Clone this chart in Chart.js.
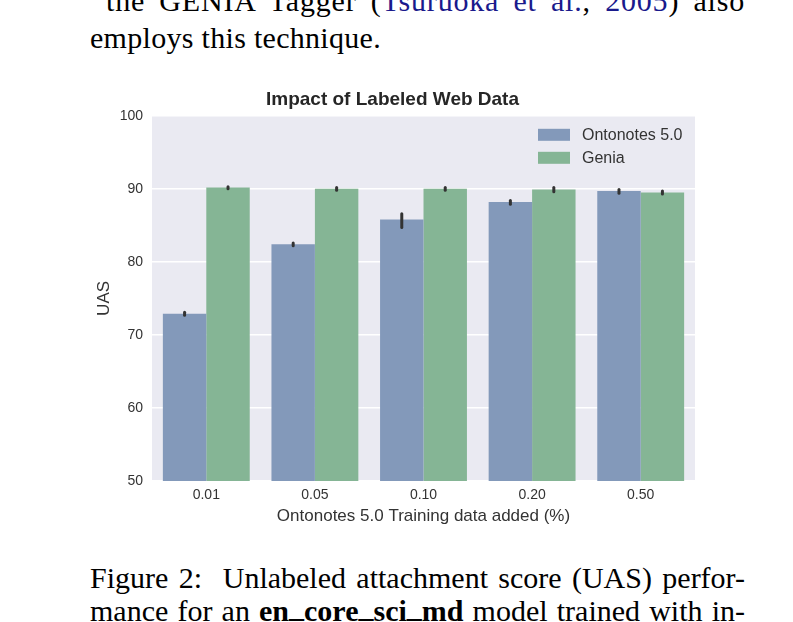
<!DOCTYPE html>
<html>
<head>
<meta charset="utf-8">
<script src="https://cdn.jsdelivr.net/npm/chart.js@4.4.1/dist/chart.umd.min.js"></script>
<style>
    body { margin: 0; background: #fff; width: 793px; height: 622px; overflow: hidden; position: relative; }
    .txt { position: absolute; left: 90px; width: 655px; font-family: "Liberation Serif", "Times New Roman", serif; font-size: 30px; line-height: 31px; color: #000; text-align: justify; text-align-last: justify; white-space: nowrap; }
    .txt.last { text-align-last: left; }
    .us { position: relative; top: -4px; }
    a { color: #1a1a8c; text-decoration: none; }
    #wrap { position: absolute; left: 90px; top: 85px; width: 620px; height: 446px; }
</style>
</head>
<body>
<div class="txt" style="top:-15px; left:106px; width:639px; letter-spacing:0.8px;">the GENIA Tagger (<a>Tsuruoka et al.</a>, <a>2005</a>) also</div>
<div class="txt last" style="top:22px; letter-spacing:0.3px;">employs this technique.</div>
<div class="txt" style="top:562px;">Figure 2:&nbsp; Unlabeled attachment score (UAS) perfor-</div>
<div class="txt" style="top:595px;">mance for an <b>en<span class="us">_</span>core<span class="us">_</span>sci<span class="us">_</span>md</b> model trained with in-</div>

<div id="wrap"><canvas id="uas-chart"></canvas></div>

<script>
const categories = ["0.01", "0.05", "0.10", "0.20", "0.50"];
const seriesNames = ["Ontonotes 5.0", "Genia"];
const ontonotes = [72.9, 82.4, 85.8, 88.2, 89.7];
const genia = [90.2, 90.0, 90.0, 89.9, 89.5];
// error bar ranges (low, high)
const ontonotesLow = [72.7, 82.2, 84.7, 87.9, 89.4];
const ontonotesHigh = [73.1, 82.6, 86.6, 88.4, 89.9];
const geniaLow = [90.0, 89.8, 89.8, 89.6, 89.3];
const geniaHigh = [90.3, 90.2, 90.2, 90.2, 89.7];
const yTicks = [50, 60, 70, 80, 90, 100];

const colors = ["#8399ba", "#85b595"];

const plotBg = {
    id: "plotBg",
    beforeDraw(chart) {
        const { ctx, chartArea: a } = chart;
        ctx.save();
        ctx.fillStyle = "#eaeaf2";
        ctx.fillRect(a.left, a.top, a.right - a.left, a.bottom - a.top);
        ctx.restore();
    }
};

const errorBars = {
    id: "errorBars",
    afterDatasetsDraw(chart) {
        const ctx = chart.ctx;
        const y = chart.scales.y;
        const ranges = [[ontonotesLow, ontonotesHigh], [geniaLow, geniaHigh]];
        ctx.save();
        ctx.strokeStyle = "#333";
        ctx.lineWidth = 3;
        ctx.lineCap = "round";
        ranges.forEach((r, di) => {
            chart.getDatasetMeta(di).data.forEach((bar, i) => {
                ctx.beginPath();
                ctx.moveTo(bar.x, y.getPixelForValue(r[0][i]));
                ctx.lineTo(bar.x, y.getPixelForValue(r[1][i]));
                ctx.stroke();
            });
        });
        ctx.restore();
    }
};

const innerLegend = {
    id: "innerLegend",
    afterDraw(chart) {
        const { ctx, chartArea: a } = chart;
        ctx.save();
        ctx.font = "16px 'Liberation Sans', Arial, sans-serif";
        ctx.textBaseline = "middle";
        chart.data.datasets.forEach((ds, i) => {
            const cy = a.top + 19 + i * 23;
            ctx.fillStyle = ds.backgroundColor;
            ctx.fillRect(a.right - 157, cy - 6, 32, 12);
            ctx.fillStyle = "#333";
            ctx.fillText(ds.label, a.right - 113, cy + 1);
        });
        ctx.restore();
    }
};

new Chart(document.getElementById("uas-chart").getContext("2d"), {
    type: "bar",
    data: {
        labels: categories,
        datasets: [
            { label: seriesNames[0], data: ontonotes, backgroundColor: colors[0] },
            { label: seriesNames[1], data: genia, backgroundColor: colors[1] }
        ]
    },
    options: {
        responsive: true,
        maintainAspectRatio: false,
        animation: false,
        categoryPercentage: 0.8,
        barPercentage: 1.0,
        layout: { padding: { right: 15, left: 0, top: 0, bottom: 0 } },
        plugins: {
            legend: { display: false },
            tooltip: { enabled: false },
            title: {
                display: true,
                text: "Impact of Labeled Web Data",
                color: "#262626",
                font: { family: "'Liberation Sans', Arial, sans-serif", size: 19, weight: "bold" },
                padding: { top: 3, bottom: 5 }
            }
        },
        scales: {
            x: {
                grid: { display: false, drawTicks: false },
                border: { display: false },
                ticks: { color: "#333", padding: 6, font: { family: "'Liberation Sans', Arial, sans-serif", size: 14 } },
                title: {
                    display: true,
                    text: "Ontonotes 5.0 Training data added (%)",
                    color: "#333",
                    font: { family: "'Liberation Sans', Arial, sans-serif", size: 17 },
                    padding: { top: 4, bottom: 4 }
                },
                afterFit: s => { s.height = 50; }
            },
            y: {
                min: 50,
                max: 100,
                afterBuildTicks: s => { s.ticks = yTicks.map(v => ({ value: v })); },
                grid: { color: "#ffffff", lineWidth: 1.5, drawTicks: false },
                border: { display: false },
                ticks: { color: "#333", padding: 9, font: { family: "'Liberation Sans', Arial, sans-serif", size: 14 } },
                title: {
                    display: true,
                    text: "UAS",
                    color: "#333",
                    font: { family: "'Liberation Sans', Arial, sans-serif", size: 17 },
                    padding: { top: 4, bottom: 4 }
                },
                afterFit: s => { s.width = 62; }
            }
        }
    },
    plugins: [plotBg, errorBars, innerLegend]
});
</script>
</body>
</html>
